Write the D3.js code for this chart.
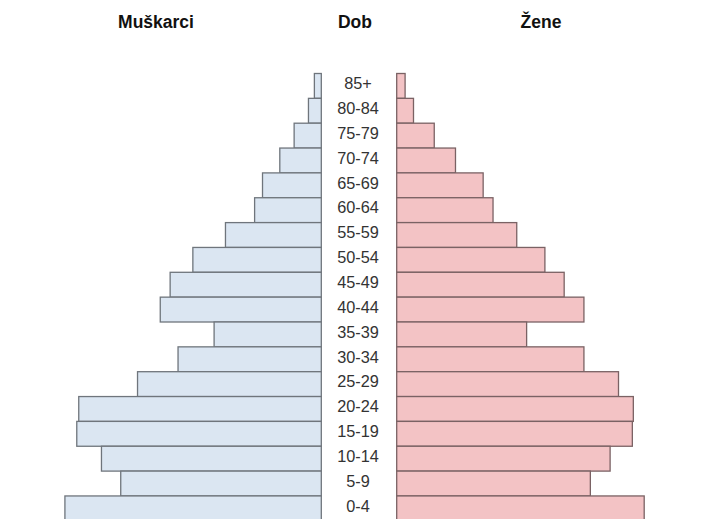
<!DOCTYPE html>
<html>
<head>
<meta charset="utf-8">
<script src="https://cdn.jsdelivr.net/npm/d3@7/dist/d3.min.js"></script>
<style>
    body { margin: 0; background: #fff; }
    svg { display: block; }
</style>
</head>
<body>
<div id="chart"></div>
<script>
    // age groups, top to bottom
    var ageGroups = ["85+", "80-84", "75-79", "70-74", "65-69", "60-64", "55-59", "50-54",
        "45-49", "40-44", "35-39", "30-34", "25-29", "20-24", "15-19", "10-14", "5-9", "0-4"];

    // share of population, %
    var men = [0.14, 0.26, 0.55, 0.84, 1.19, 1.35, 1.94, 2.60, 3.06, 3.26,
        2.17, 2.90, 3.72, 4.91, 4.95, 4.45, 4.06, 5.19];
    var women = [0.17, 0.34, 0.76, 1.19, 1.75, 1.95, 2.43, 3.00, 3.39, 3.79,
        2.63, 3.79, 4.49, 4.79, 4.77, 4.32, 3.92, 5.01];

    var titles = ["Muškarci", "Dob", "Žene"];

    var width = 707,
        height = 519;

    var leftEdge = 321.3,
        rightEdge = 396.7,
        topY = 73.5,
        rowH = 24.85;

    var x = d3.scaleLinear()
        .domain([0, 6])
        .range([0, 296.4]);

    var y = d3.scaleBand()
        .domain(ageGroups)
        .range([topY, topY + rowH * ageGroups.length])
        .padding(0);

    var svg = d3.select("#chart").append("svg")
        .attr("width", width)
        .attr("height", height);

    var menData = d3.zip(ageGroups, men);
    var womenData = d3.zip(ageGroups, women);

    svg.selectAll(".men")
        .data(menData)
        .enter().append("rect")
        .attr("class", "men")
        .attr("x", function(d) { return leftEdge - x(d[1]); })
        .attr("y", function(d) { return y(d[0]); })
        .attr("width", function(d) { return x(d[1]); })
        .attr("height", y.bandwidth())
        .style("fill", "#dbe6f2")
        .style("stroke", "#6f757c")
        .style("stroke-width", 1.3);

    svg.selectAll(".women")
        .data(womenData)
        .enter().append("rect")
        .attr("class", "women")
        .attr("x", rightEdge)
        .attr("y", function(d) { return y(d[0]); })
        .attr("width", function(d) { return x(d[1]); })
        .attr("height", y.bandwidth())
        .style("fill", "#f3c3c5")
        .style("stroke", "#7a6264")
        .style("stroke-width", 1.3);

    //age labels in the middle
    svg.selectAll(".age")
        .data(ageGroups)
        .enter().append("text")
        .attr("class", "age")
        .attr("x", (leftEdge + rightEdge) / 2 - 1)
        .attr("y", function(d) { return y(d) + y.bandwidth() / 2; })
        .attr("dy", "0.2em")
        .style("text-anchor", "middle")
        .style("font-family", "Liberation Sans, Arial, sans-serif")
        .style("font-size", "16.3px")
        .style("fill", "#333")
        .text(function(d) { return d; });

    var titleX = [156, 355, 541];
    svg.selectAll(".title")
        .data(titles)
        .enter().append("text")
        .attr("class", "title")
        .attr("x", function(d, i) { return titleX[i]; })
        .attr("y", 28)
        .style("text-anchor", "middle")
        .style("font-family", "Liberation Sans, Arial, sans-serif")
        .style("font-weight", "bold")
        .style("font-size", "17.5px")
        .style("fill", "#111")
        .text(function(d) { return d; });
</script>
</body>
</html>
